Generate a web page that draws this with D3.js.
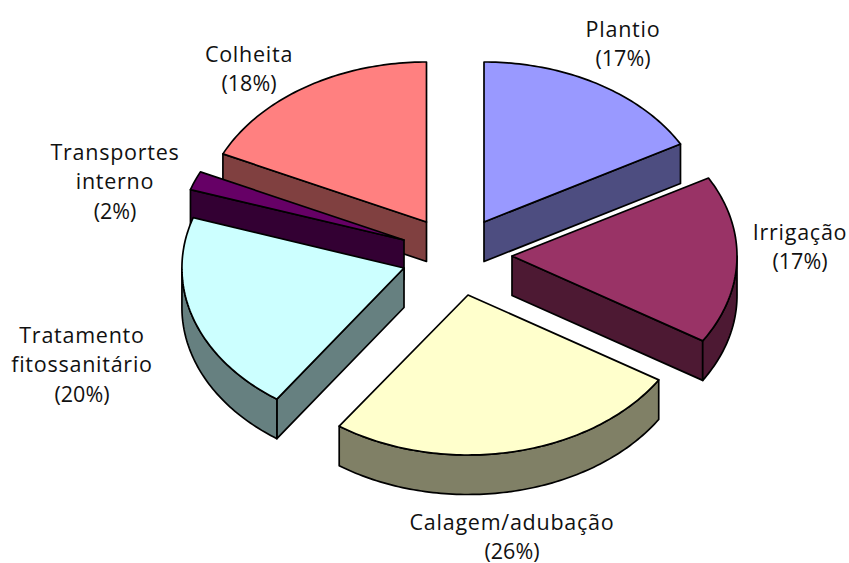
<!DOCTYPE html>
<html><head><meta charset="utf-8">
<script src="https://cdn.jsdelivr.net/npm/d3@7/dist/d3.min.js"></script>
<style>html,body{margin:0;padding:0;background:#fff}svg{display:block}text{font-family:"Open Sans",sans-serif;font-size:21.5px;fill:#111;text-anchor:middle;letter-spacing:.75px}</style>
</head><body><svg id="c" width="849" height="563"></svg>
<script>
const categories = ["Plantio","Irrigação","Calagem/adubação","Tratamento fitossanitário","Transportes interno","Colheita"];
const values = [16.9,17,25.8,20.4,1.9,18];
const topColors = ["#9999FF","#993366","#FFFFCC","#CCFFFF","#660066","#FF8080"];
const sideColors = ["#4D4D80","#4D1933","#808066","#668080","#330033","#804040"];
const labelLines = [["Plantio","(17%)"],["Irrigação","(17%)"],["Calagem/adubação","(26%)"],["Tratamento","fitossanitário","(20%)"],["Transportes","interno","(2%)"],["Colheita","(18%)"]];

const apex = [[484,222],[512,256],[468,295],[404,268],[404,240],[426.5,222]];
const widthFactor = [1,1,1,0.987,1,1];
const labelPos = [[623,37],[800,240],[512,530],[82,343],[115,160],[249,62]];
const drawOrder = [0,5,4,1,3,2];
const depth = 39.5, lineH = 29.3;

const sx = d3.scaleLinear().domain([-1,1]).range([-225,225]);
const sy = d3.scaleLinear().domain([-1,1]).range([-160,160]);
const arcs = d3.pie().sort(null).startAngle(0).endAngle(2*Math.PI)(values);
const svg = d3.select("#c");
const line = d3.line();

function pt(i,a,dz){return [apex[i][0]+sx(Math.sin(a))*widthFactor[i], apex[i][1]-sy(Math.cos(a))+dz];}
function arcPts(i,a0,a1,dz){
  const n=Math.max(2,Math.ceil((a1-a0)/(Math.PI/180)));
  return d3.range(n+1).map(k=>pt(i,a0+(a1-a0)*k/n,dz));
}
const H=Math.PI/2, H3=3*Math.PI/2;
drawOrder.forEach(i=>{
  const a=arcs[i], A=a.startAngle, B=a.endAngle, c=apex[i];
  const g=svg.append("g");
  const face=(pts,fill)=>g.append("path").attr("d",line(pts)+"Z").attr("fill",fill)
    .attr("stroke","#000").attr("stroke-width",1.7).attr("stroke-linejoin","round");
  const s=pt(i,A,0), e=pt(i,B,0);
  const down=p=>[p[0],p[1]+depth];
  if(A>Math.PI) face([c,s,down(s),down(c)],sideColors[i]);
  if(B<Math.PI) face([c,e,down(e),down(c)],sideColors[i]);
  const w0=Math.max(A,H), w1=Math.min(B,H3);
  if(w1>w0) face(arcPts(i,w0,w1,0).concat(arcPts(i,w0,w1,depth).reverse()),sideColors[i]);
  face([c].concat(arcPts(i,A,B,0)),topColors[i]);
});
labelLines.forEach((ls,i)=>{
  const t=svg.append("text").attr("x",labelPos[i][0]).attr("y",labelPos[i][1]);
  ls.forEach((l,k)=>t.append("tspan").attr("x",labelPos[i][0]).attr("y",labelPos[i][1]+k*lineH)
    .style("letter-spacing",k===ls.length-1?"0px":null).text(l));
});
</script></body></html>
